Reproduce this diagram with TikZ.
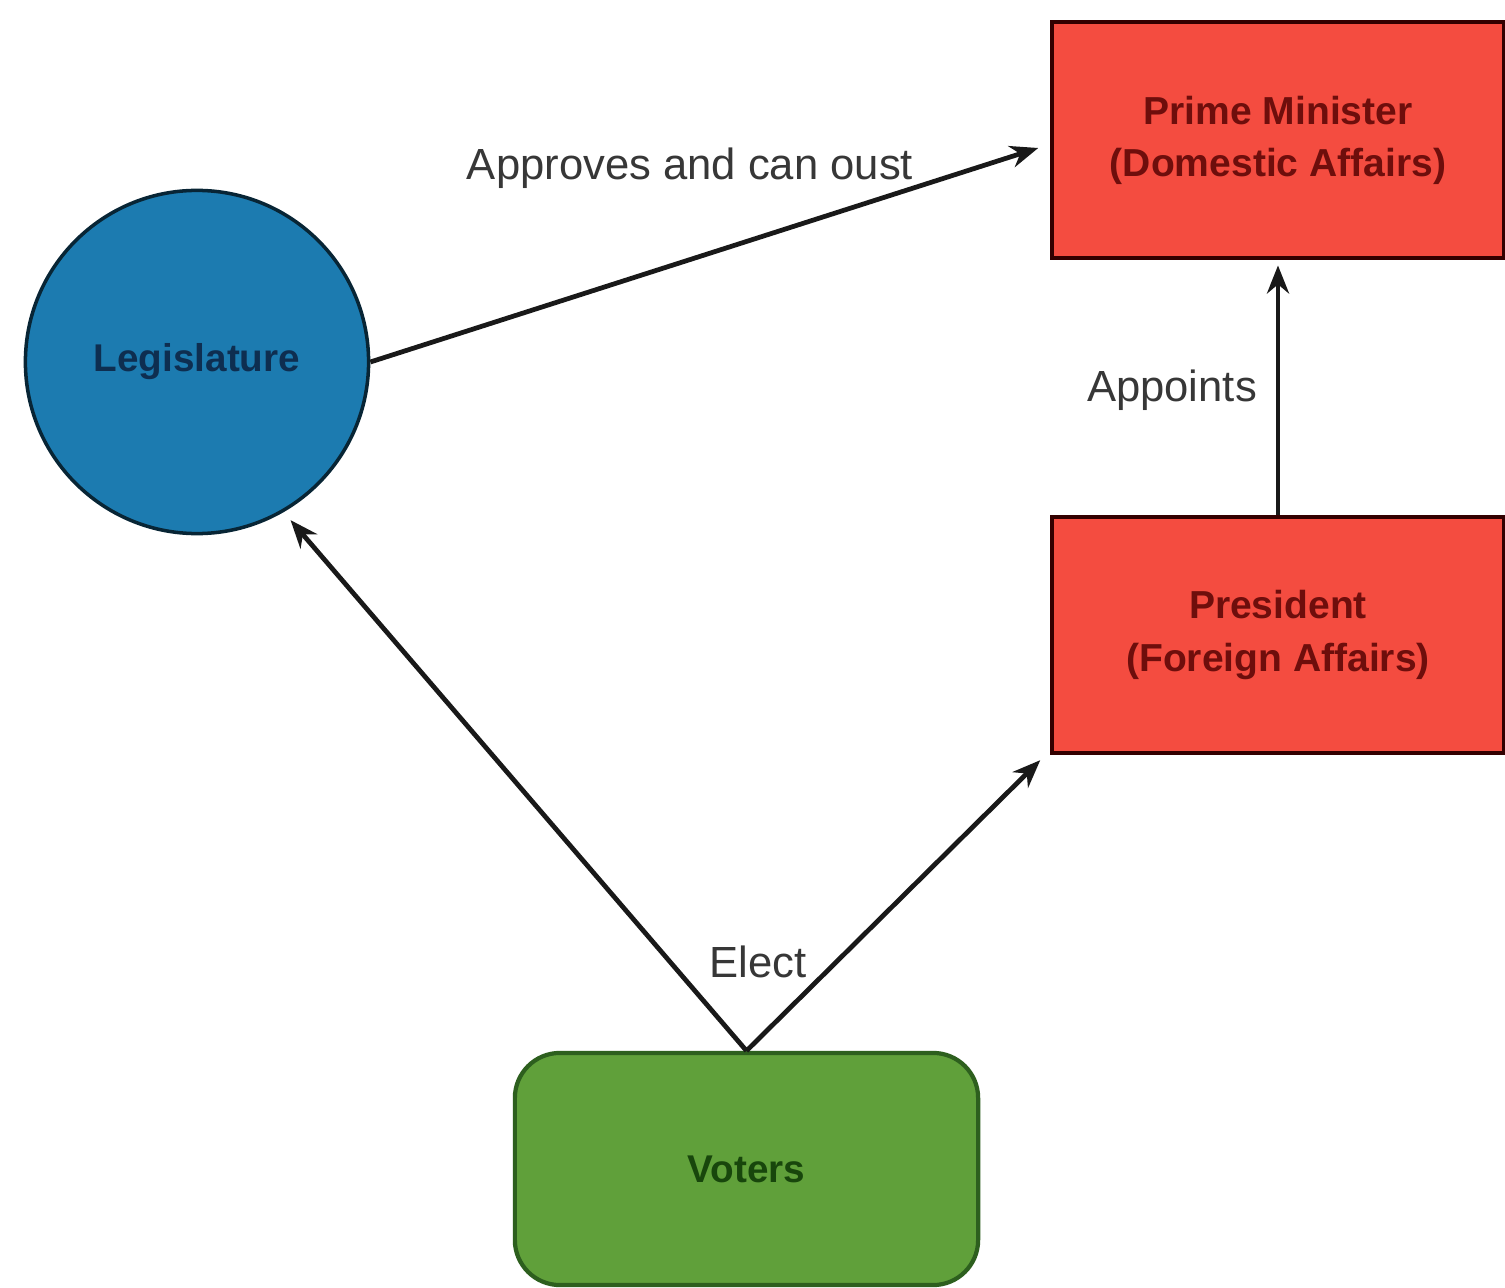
\documentclass[tikz,border=0pt]{standalone}
\usepackage{fontspec}
\setmainfont{Liberation Sans}
\usetikzlibrary{arrows.meta,calc}
\definecolor{redfill}{RGB}{244,76,64}
\definecolor{redtext}{RGB}{110,14,12}
\definecolor{bluefill}{RGB}{28,123,176}
\definecolor{bluetext}{RGB}{14,46,80}
\definecolor{greenfill}{RGB}{96,160,58}
\definecolor{greenline}{RGB}{45,95,30}
\definecolor{greentext}{RGB}{24,70,12}
\definecolor{labtext}{RGB}{55,55,55}
\tikzset{
  redbox/.style={rectangle,draw=black!80!red,line width=1.2pt,fill=redfill,text=redtext,
    minimum width=4.51cm,minimum height=2.36cm,align=center,font=\fontsize{11.1}{14.8}\selectfont\bfseries},
  circbox/.style={circle,draw=black!70!bluefill,line width=1pt,fill=bluefill,text=bluetext,
    minimum size=3.43cm,inner sep=0pt,font=\fontsize{11}{13}\selectfont\bfseries},
  greenbox/.style={rectangle,rounded corners=0.45cm,draw=greenline,line width=1.2pt,fill=greenfill,text=greentext,
    minimum width=4.63cm,minimum height=2.32cm,font=\fontsize{11}{13}\selectfont\bfseries},
  arr/.style={line width=1.35pt,draw=black!90,-{Stealth[length=0.28cm,width=0.22cm]}},
  lab/.style={text=labtext,font=\fontsize{12.4}{15}\selectfont,inner sep=0pt}
}
\begin{document}
\begin{tikzpicture}[x=0.01cm,y=-0.01cm]
\useasboundingbox (0,0) rectangle (1505,1288);
\fill[white] (0,0) rectangle (1505,1288);
\node[redbox] (pm) at (1278,140) {Prime Minister\\(Domestic Affairs)};
\node[redbox] (pres) at (1278,635) {President\\(Foreign Affairs)};
\node[circbox] (leg) at (197,362) {Legislature};
\node[greenbox] (vot) at (746.5,1169) {Voters};
\coordinate (pmin) at ($(pm.west)+(-12,8)$);
\coordinate (presin) at ($(pres.south west)+(-10,5)$);
\draw[arr] (leg.east) -- (pmin);
\draw[arr,shorten >=1.5pt] (pres.north) -- (pm.south);
\draw[arr,shorten >=3pt] (vot.north) -- (leg.-60);
\draw[arr] (vot.north) -- (presin);
\node[lab] (l1) at (690,168) {Approves and can oust};
\node[lab] (l2) at (1172,390) {Appoints};
\node[lab] (l3) at (758,962) {Elect};
\end{tikzpicture}
\end{document}
